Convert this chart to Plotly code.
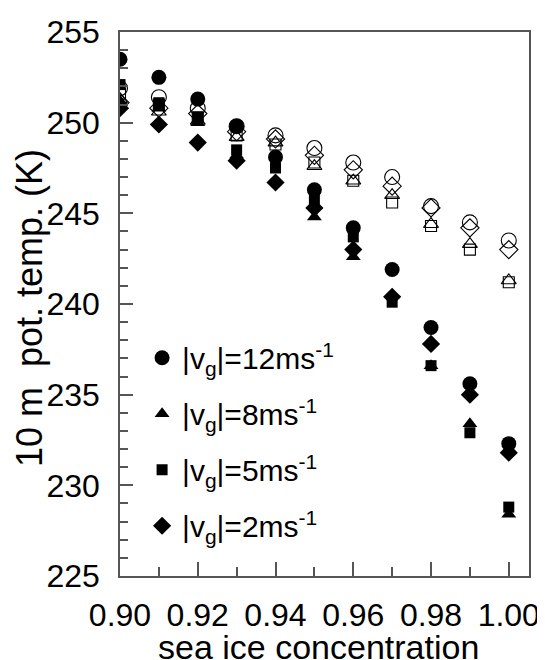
import plotly.graph_objects as go

sic = [0.90, 0.91, 0.92, 0.93, 0.94, 0.95, 0.96, 0.97, 0.98, 0.99, 1.00]

# filled symbols (legend series)
v12_filled = [253.5, 252.5, 251.3, 249.8, 248.1, 246.3, 244.2, 241.9, 238.7, 235.6, 232.3]
v8_filled = [251.2, 250.8, 250.0, 248.2, 246.8, 244.8, 242.6, 240.5, 236.6, 233.4, 228.4]
v5_filled = [252.1, 251.1, 250.3, 248.5, 247.5, 245.8, 243.7, 240.1, 236.6, 232.9, 228.8]
v2_filled = [250.8, 249.9, 248.9, 247.9, 246.7, 245.3, 243.0, 240.4, 237.8, 235.0, 231.8]

# open symbols (no legend entries)
v12_open = [251.9, 251.4, 250.8, 249.8, 249.3, 248.6, 247.8, 247.0, 245.4, 244.5, 243.5]
v8_open = [251.3, 250.6, 250.1, 249.2, 248.9, 247.6, 246.8, 246.0, 244.4, 243.3, 241.3]
v5_open = [251.6, 251.0, 250.3, 249.3, 248.8, 247.8, 246.8, 245.6, 244.3, 243.0, 241.2]
v2_open = [251.1, 250.8, 250.5, 249.5, 249.1, 248.2, 247.4, 246.5, 245.3, 244.2, 243.0]

legend_labels = [
    "|v<sub>g</sub>|=12ms<sup>-1</sup>",
    "|v<sub>g</sub>|=8ms<sup>-1</sup>",
    "|v<sub>g</sub>|=5ms<sup>-1</sup>",
    "|v<sub>g</sub>|=2ms<sup>-1</sup>",
]
x_tick_vals = [0.90, 0.92, 0.94, 0.96, 0.98, 1.00]
x_tick_text = ["0.90", "0.92", "0.94", "0.96", "0.98", "1.00"]
y_tick_vals = [225, 230, 235, 240, 245, 250, 255]
x_title = "sea ice concentration"
y_title = "10 m\u00a0 pot. temp. (K)"

filled = [v12_filled, v8_filled, v5_filled, v2_filled]
opened = [v12_open, v8_open, v5_open, v2_open]
symbols = ["circle", "triangle-up", "square", "diamond"]
sizes = [15, 13, 11, 14]

fig = go.Figure()
for i in range(4):
    fig.add_trace(go.Scatter(
        x=sic, y=filled[i], mode="markers", name=legend_labels[i],
        legendgroup=f"g{i}",
        marker=dict(symbol=symbols[i], size=sizes[i], color="black",
                    line=dict(width=0)),
    ))
for i in range(4):
    fig.add_trace(go.Scatter(
        x=sic, y=opened[i], mode="markers", showlegend=False,
        marker=dict(symbol=symbols[i] + "-open", size=sizes[i], color="black",
                    line=dict(width=1.1, color="black")),
    ))

axis_color = "#555555"
font_family = "Liberation Sans, Arial, sans-serif"
fig.update_layout(
    width=537, height=652,
    margin=dict(l=112, r=16, t=24, b=84),
    paper_bgcolor="white", plot_bgcolor="white",
    font=dict(family=font_family, size=32, color="black"),
    showlegend=True,
    legend=dict(
        x=0.054, y=0.449, xanchor="left", yanchor="top",
        bgcolor="rgba(0,0,0,0)", borderwidth=0,
        font=dict(size=30), tracegroupgap=14, itemsizing="trace",
    ),
    xaxis=dict(
        range=[0.90, 1.0052], tickmode="array",
        tickvals=x_tick_vals, ticktext=x_tick_text,
        ticks="inside", ticklen=14, tickwidth=1.5, tickcolor=axis_color,
        minor=dict(ticks="inside", ticklen=9, tickwidth=1.5, tickcolor=axis_color,
                   tickvals=[0.91, 0.93, 0.95, 0.97, 0.99]),
        showline=True, linecolor=axis_color, linewidth=1.5, mirror=True,
        showgrid=False, zeroline=False, automargin=False,
        ticklabelstandoff=10,
    ),
    yaxis=dict(
        range=[225, 255], tickmode="array",
        tickvals=y_tick_vals,
        ticks="inside", ticklen=13, tickwidth=1.5, tickcolor=axis_color,
        minor=dict(ticks="inside", ticklen=8, tickwidth=1.5, tickcolor=axis_color,
                   dtick=1),
        showline=True, linecolor=axis_color, linewidth=1.5, mirror=True,
        showgrid=False, zeroline=False, automargin=False,
        ticklabelstandoff=12,
    ),
    annotations=[
        dict(
            text=y_title, textangle=-90,
            xref="paper", yref="paper", x=0, y=0.5,
            xanchor="center", yanchor="middle", xshift=-91, yshift=-4,
            showarrow=False, font=dict(size=36),
        ),
        dict(
            text=x_title,
            xref="paper", yref="paper", x=0.5, y=0,
            xanchor="center", yanchor="top", xshift=-6, yshift=-50,
            showarrow=False, font=dict(size=34),
        ),
    ],
)

fig.write_html("out.html")
